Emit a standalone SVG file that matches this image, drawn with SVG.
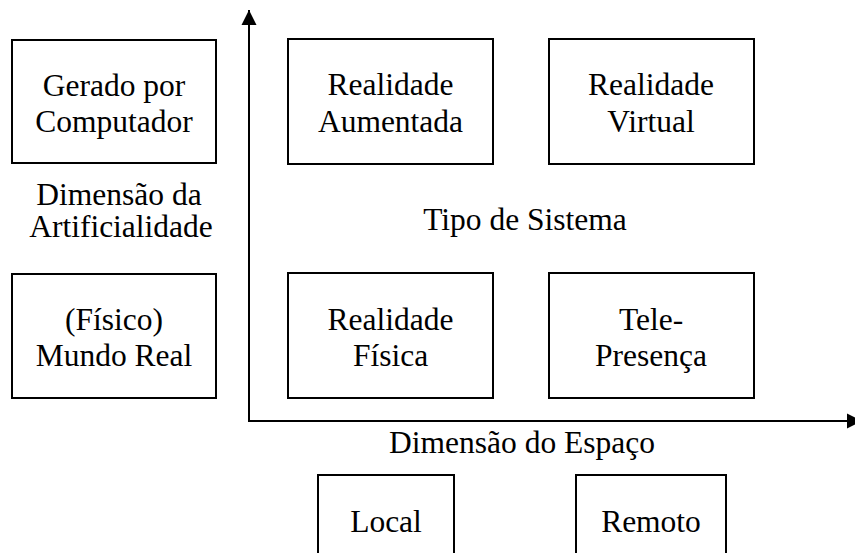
<svg xmlns="http://www.w3.org/2000/svg" width="855" height="553" viewBox="0 0 855 553">
<style>
.box{fill:#fff;stroke:#000;stroke-width:2}
.t{font-family:'Liberation Serif','DejaVu Serif',serif;font-size:31.5px;fill:#000;text-anchor:middle}
.ax{stroke:#000;stroke-width:2;fill:none}
</style>
<defs>
<marker id="ah" markerUnits="userSpaceOnUse" markerWidth="16" markerHeight="16" refX="15" refY="8" orient="auto" viewBox="0 0 16 16">
<path d="M0,0.5 L15,8 L0,15.5 z" fill="#000"/>
</marker>
</defs>
<rect width="855" height="553" fill="#fff"/>
<g id="connectors">
<line class="ax" x1="249" y1="421" x2="249" y2="10" marker-end="url(#ah)"/>
<line class="ax" x1="248" y1="421" x2="862" y2="421" marker-end="url(#ah)"/>
</g>
<g id="gerado">
<rect class="box" x="12" y="40" width="204" height="123"/>
<text class="t" font-family="Liberation Serif" x="114" y="96">Gerado por</text>
<text class="t" font-family="Liberation Serif" x="114" y="131.5">Computador</text>
</g>
<g id="dim-artificialidade">
<text class="t" font-family="Liberation Serif" x="119" y="205">Dimensão da</text>
<text class="t" font-family="Liberation Serif" x="121" y="236.5">Artificialidade</text>
</g>
<g id="mundo-real">
<rect class="box" x="12" y="274" width="204" height="124"/>
<text class="t" font-family="Liberation Serif" x="114" y="330">(Físico)</text>
<text class="t" font-family="Liberation Serif" x="114" y="366">Mundo Real</text>
</g>
<g id="aumentada">
<rect class="box" x="288" y="39" width="205" height="125"/>
<text class="t" font-family="Liberation Serif" x="390.5" y="95">Realidade</text>
<text class="t" font-family="Liberation Serif" x="390.5" y="131.5">Aumentada</text>
</g>
<g id="virtual">
<rect class="box" x="549" y="39" width="205" height="125"/>
<text class="t" font-family="Liberation Serif" x="651" y="95">Realidade</text>
<text class="t" font-family="Liberation Serif" x="651" y="131.5">Virtual</text>
</g>
<g id="tipo-sistema">
<text class="t" font-family="Liberation Serif" x="525" y="230">Tipo de Sistema</text>
</g>
<g id="fisica">
<rect class="box" x="288" y="273" width="205" height="125"/>
<text class="t" font-family="Liberation Serif" x="390.5" y="330">Realidade</text>
<text class="t" font-family="Liberation Serif" x="390.5" y="366">Física</text>
</g>
<g id="telepresenca">
<rect class="box" x="549" y="273" width="205" height="125"/>
<text class="t" font-family="Liberation Serif" x="651" y="330">Tele-</text>
<text class="t" font-family="Liberation Serif" x="651" y="366">Presença</text>
</g>
<g id="dim-espaco">
<text class="t" font-family="Liberation Serif" x="522" y="453">Dimensão do Espaço</text>
</g>
<g id="local">
<rect class="box" x="318" y="475" width="136" height="100"/>
<text class="t" font-family="Liberation Serif" x="386" y="531.5">Local</text>
</g>
<g id="remoto">
<rect class="box" x="576" y="475" width="150" height="100"/>
<text class="t" font-family="Liberation Serif" x="651" y="531.5">Remoto</text>
</g>
</svg>
